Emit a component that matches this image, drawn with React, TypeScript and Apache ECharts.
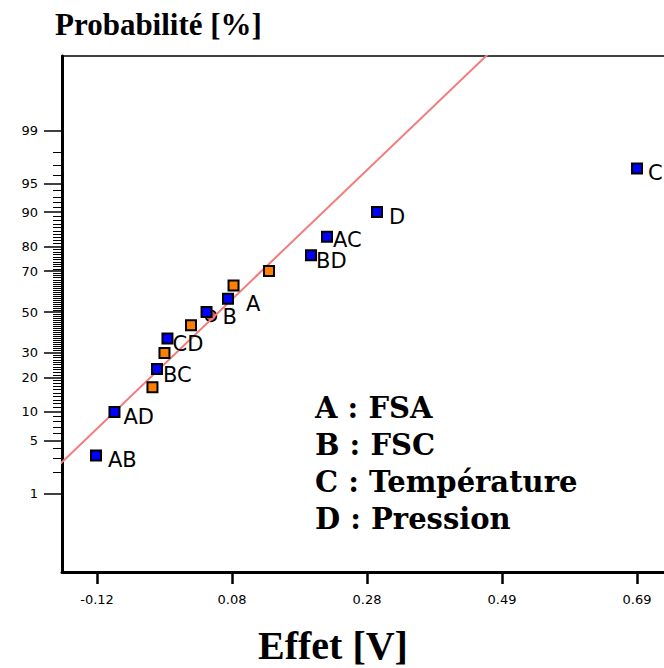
import React, { useEffect, useRef } from "react";
import * as echarts from "echarts";

// ---- data ----
const sigNames = ["AB", "AD", "BC", "CD", "B", "A", "BD", "AC", "D", "C"];
const sigEffects = [-0.1215, -0.0938, -0.03, -0.0143, 0.0443, 0.0765, 0.201, 0.225, 0.3, 0.69];
const sigProbs = [3.3, 10, 23.3, 36.7, 50, 56.7, 76.7, 83.3, 90, 96.7];

const otherEffects = [-0.0368, -0.0188, 0.021, 0.0848, 0.138];
const otherProbs = [16.7, 30, 43.3, 63.3, 70];

const extraEffects = [0.051];
const extraProbs = [48];

// fitted normal line: effect = mean + sd * z
const fitMean = 0.0626;
const fitSd = 0.1222;

const xTickValues = [-0.12, 0.0825, 0.285, 0.4875, 0.69];
const xTickLabels = ["-0.12", "0.08", "0.28", "0.49", "0.69"];

const yTickProbs = [1, 5, 10, 20, 30, 50, 70, 80, 90, 95, 99];
const yTickLabels = ["1", "5", "10", "20", "30", "50", "70", "80", "90", "95", "99"];
const yMinorProbs = [
  2, 3, 4, 6, 7, 8, 9, 11, 12, 13, 14, 15, 16, 17, 18, 19, 21, 22, 23, 24, 25, 26, 27, 28, 29,
  31, 32, 33, 34, 35, 36, 37, 38, 39, 40, 41, 42, 43, 44, 45, 46, 47, 48, 49, 51, 52, 53, 54,
  55, 56, 57, 58, 59, 60, 61, 62, 63, 64, 65, 66, 67, 68, 69, 71, 72, 73, 74, 75, 76, 77, 78,
  79, 81, 82, 83, 84, 85, 86, 87, 88, 89, 91, 92, 93, 94, 96, 97, 98,
];

const legendLines = ["A : FSA", "B : FSC", "C : Température", "D : Pression"];

// label nudges in pixels (layout only)
const labelNudge: Record<string, number[]> = {
  AB: [3, 5],
  AD: [0, 5],
  BC: [-3, 6],
  CD: [-4, 5],
  B: [7, 5],
  A: [9, 5],
  BD: [-4, 6],
  AC: [-3, 3],
  D: [3, 5],
  C: [2, 4],
};

// inverse standard normal CDF (Acklam)
function probit(pPct: number): number {
  const p = pPct / 100;
  const a = [-39.69683028665376, 220.9460984245205, -275.9285104469687, 138.357751867269, -30.66479806614716, 2.506628277459239];
  const b = [-54.47609879822406, 161.5858368580409, -155.6989798598866, 66.80131188771972, -13.28068155288572];
  const c = [-0.007784894002430293, -0.3223964580411365, -2.400758277161838, -2.549732969870880, 4.374664141464968, 2.938163982698783];
  const d = [0.007784695709041462, 0.3224671290700398, 2.445134137142996, 3.754408661907416];
  const plow = 0.02425;
  if (p < plow) {
    const q = Math.sqrt(-2 * Math.log(p));
    return (((((c[0] * q + c[1]) * q + c[2]) * q + c[3]) * q + c[4]) * q + c[5]) /
      ((((d[0] * q + d[1]) * q + d[2]) * q + d[3]) * q + 1);
  }
  if (p <= 1 - plow) {
    const q = p - 0.5;
    const r = q * q;
    return ((((((a[0] * r + a[1]) * r + a[2]) * r + a[3]) * r + a[4]) * r + a[5]) * q) /
      (((((b[0] * r + b[1]) * r + b[2]) * r + b[3]) * r + b[4]) * r + 1);
  }
  const q = Math.sqrt(-2 * Math.log(1 - p));
  return -(((((c[0] * q + c[1]) * q + c[2]) * q + c[3]) * q + c[4]) * q + c[5]) /
    ((((d[0] * q + d[1]) * q + d[2]) * q + d[3]) * q + 1);
}

const X_MIN = -0.1725;
const X_MAX = 0.7305;
const Z_MIN = -3.333;
const Z_MAX = 3.282;

export default function App() {
  const ref = useRef<HTMLDivElement>(null);

  useEffect(() => {
    if (!ref.current) return;
    const chart = echarts.init(ref.current, null, { renderer: "svg" });

    const yTickZ = yTickProbs.map(probit);
    const yMinorZ = yMinorProbs.map(probit);

    const sigData = sigNames.map((n, i) => ({
      name: n,
      value: [sigEffects[i], probit(sigProbs[i])],
    }));
    const otherData = otherEffects.map((e, i) => [e, probit(otherProbs[i])]);
    const extraData = extraEffects.map((e, i) => [e, probit(extraProbs[i])]);
    const fitData = [-4, 4].map((z) => [fitMean + fitSd * z, z]);

    const tickFont = { fontFamily: "DejaVu Sans", fontSize: 13, color: "#000" };

    const nearestLabel = (vals: number[], labels: string[]) => (v: number) => {
      let best = 0;
      vals.forEach((t, i) => {
        if (Math.abs(t - v) < Math.abs(vals[best] - v)) best = i;
      });
      return labels[best];
    };

    chart.setOption({
      animation: false,
      backgroundColor: "#fff",
      grid: { left: 62, top: 56, right: 0, bottom: 96, containLabel: false },
      xAxis: [
        {
          type: "value",
          position: "bottom",
          min: X_MIN,
          max: X_MAX,
          axisLine: { show: true, onZero: false, lineStyle: { color: "#000", width: 3 } },
          axisTick: { show: true, customValues: xTickValues, length: 12, lineStyle: { color: "#000", width: 2.5 } },
          axisLabel: {
            show: true,
            customValues: xTickValues,
            margin: 21,
            ...tickFont,
            formatter: nearestLabel(xTickValues, xTickLabels),
          },
          splitLine: { show: false },
        },
        {
          type: "value",
          position: "top",
          min: X_MIN,
          max: X_MAX,
          axisLine: { show: true, onZero: false, lineStyle: { color: "#000", width: 1.5 } },
          axisTick: { show: false },
          axisLabel: { show: false },
          splitLine: { show: false },
        },
      ],
      yAxis: [
        {
          type: "value",
          position: "left",
          min: Z_MIN,
          max: Z_MAX,
          axisLine: { show: true, onZero: false, lineStyle: { color: "#000", width: 3 } },
          axisTick: { show: true, customValues: yTickZ, length: 18, lineStyle: { color: "#000", width: 1.5 } },
          axisLabel: {
            show: true,
            customValues: yTickZ,
            margin: 24,
            ...tickFont,
            formatter: nearestLabel(yTickZ, yTickLabels),
          },
          splitLine: { show: false },
        },
        {
          type: "value",
          position: "left",
          min: Z_MIN,
          max: Z_MAX,
          axisLine: { show: false, onZero: false },
          axisTick: { show: true, customValues: yMinorZ, length: 9, lineStyle: { color: "#000", width: 1 } },
          axisLabel: { show: false },
          splitLine: { show: false },
        },
      ],
      series: [
        {
          type: "scatter",
          data: extraData,
          symbol: "circle",
          symbolSize: 11,
          itemStyle: { color: "#b4645a", borderColor: "#000", borderWidth: 1.5, opacity: 1 },
          z: 2,
          silent: true,
        },
        {
          type: "line",
          data: fitData,
          symbol: "none",
          lineStyle: { color: "#f47c7c", width: 2 },
          clip: true,
          z: 3,
          silent: true,
        },
        {
          type: "scatter",
          data: otherData,
          symbol: "rect",
          symbolSize: 10,
          itemStyle: { color: "#ff8000", borderColor: "#000", borderWidth: 2, opacity: 1 },
          z: 4,
        },
        {
          type: "scatter",
          data: sigData,
          symbol: "rect",
          symbolSize: 10,
          itemStyle: { color: "#0000ff", borderColor: "#000", borderWidth: 2, opacity: 1 },
          label: {
            show: true,
            position: "right",
            distance: 3,
            formatter: "{b}",
            fontFamily: "DejaVu Sans",
            fontSize: 21,
            lineHeight: 16,
            color: "#000",
          },
          labelLayout: (params: any) => {
            const n = sigNames[params.dataIndex];
            const d = labelNudge[n] || [0, 5];
            return { dx: d[0], dy: d[1], hideOverlap: false };
          },
          z: 5,
        },
      ],
      graphic: [
        {
          type: "text",
          left: 55,
          top: 9,
          style: {
            text: "Probabilité [%]",
            font: "bold 31px 'Liberation Serif'",
            fill: "#000",
          },
        },
        {
          type: "text",
          left: 258,
          top: 625,
          style: {
            text: "Effet [V]",
            font: "bold 40px 'Liberation Serif'",
            fill: "#000",
          },
        },
        {
          type: "text",
          left: 315,
          top: 389,
          style: {
            text: legendLines.join("\n"),
            font: "bold 29px 'DejaVu Serif'",
            lineHeight: 37,
            fill: "#000",
          },
        },
      ],
    });

    return () => chart.dispose();
  }, []);

  return (
    <div
      ref={ref}
      style={{ position: "fixed", left: 0, top: 0, width: 664, height: 668, background: "#fff" }}
    />
  );
}
